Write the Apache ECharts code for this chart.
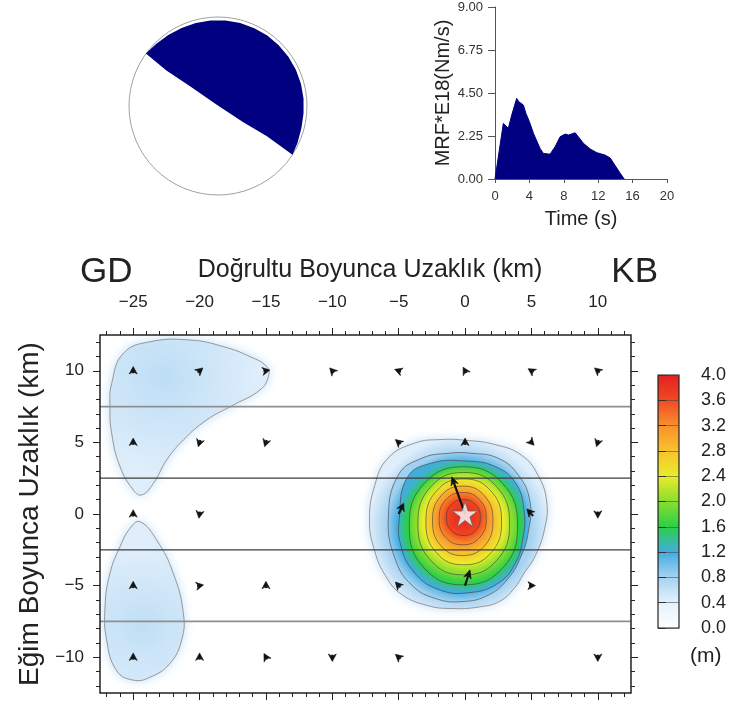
<!DOCTYPE html>
<html><head><meta charset="utf-8">
<script src="https://cdn.jsdelivr.net/npm/echarts@6/dist/echarts.min.js"></script>
<style>html,body{margin:0;padding:0;background:#fff}#c{width:735px;height:701px}</style>
</head><body><div id="c"></div>
<script>
// ---------------- DATA ----------------
// Moment rate function
const mrfTime  = [0, 0.4, 0.97, 1.55, 1.94, 2.52, 2.75, 3.3, 3.6, 4.0, 4.47, 5.24, 5.63, 6.4, 6.99, 7.57, 8.16, 8.54, 9.32, 10.3, 11.07, 11.84, 12.8, 13.4, 13.8, 14.56, 15.03];
const mrfValue = [0, 1.2, 2.91, 2.65, 3.34, 4.22, 4.05, 3.87, 3.43, 3.0, 2.39, 1.6, 1.34, 1.3, 1.69, 2.21, 2.35, 2.3, 2.42, 1.86, 1.57, 1.38, 1.25, 1.1, 0.82, 0.3, 0];

// Focal mechanism (normalised lower-hemisphere projection, radius 1)
const beachCompression = [[-0.81,0.59],[-0.696,0.696],[-0.559,0.799],[-0.409,0.877],[-0.25,0.932],[-0.084,0.961],[0.084,0.961],[0.25,0.932],[0.408,0.875],[0.554,0.791],[0.682,0.682],[0.791,0.554],[0.875,0.408],[0.932,0.25],[0.961,0.084],[0.961,-0.084],[0.937,-0.251],[0.893,-0.416],[0.837,-0.548],[0.55,-0.34],[0.28,-0.18],[-0.01,0.01],[-0.31,0.22],[-0.58,0.4]];

// Slip distribution axes
const xMajorTicks = [-25, -20, -15, -10, -5, 0, 5, 10];
const yMajorTicks = [-10, -5, 0, 5, 10];
const xMinorTicks = []; for (let v = -27; v <= 12; v++) xMinorTicks.push(v);
const yMinorTicks = []; for (let v = -12; v <= 12; v++) yMinorTicks.push(v);
const rowBoundaries = [7.5, 2.5, -2.5, -7.5];

// Slip contours (km along strike, km along dip)
const upperBlob04 = [[-26.62,9.12],[-25.74,11.22],[-23.73,12.03],[-20.72,12.15],[-18.21,11.69],[-16.2,10.99],[-14.94,10.29],[-14.82,9.59],[-15.45,8.66],[-17.46,7.61],[-19.46,6.57],[-21.22,5.17],[-22.48,3.77],[-23.48,2.14],[-24.36,1.33],[-24.99,1.68],[-25.99,3.31],[-26.62,5.63],[-26.75,7.5]];
const lowerBlob04 = [[-24.49,-0.54],[-23.23,-1.82],[-21.98,-4.14],[-21.22,-6.94],[-21.35,-8.8],[-22.23,-10.43],[-23.73,-11.4],[-24.99,-11.6],[-26.24,-10.95],[-27.0,-8.8],[-27.12,-6.47],[-26.75,-4.14],[-25.99,-2.28],[-25.24,-1.0]];
const mainC04 = [[-7.2,-0.5],[-6.8,2.0],[-5.8,3.9],[-3.8,4.95],[-1.8,5.2],[0.0,5.15],[2.25,4.85],[4.26,4.1],[5.5,2.7],[6.15,0.85],[6.0,-1.0],[5.3,-2.9],[4.4,-4.2],[3.7,-5.2],[2.6,-6.1],[1.0,-6.5],[-1.0,-6.6],[-2.8,-6.4],[-4.8,-5.6],[-6.0,-4.3],[-6.8,-2.6]];
const mainC08 = [[-5.78,-0.3],[-5.03,2.72],[-3.27,3.89],[-1.26,4.24],[0.5,4.24],[2.5,3.89],[4.01,2.72],[4.89,0.86],[4.77,-1.23],[4.26,-2.86],[3.26,-4.49],[1.75,-5.66],[-0.26,-6.12],[-2.26,-5.89],[-4.02,-4.96],[-5.28,-3.1]];
const mainC12 = [[-4.95,-0.3],[-4.35,2.55],[-2.55,3.55],[0.0,3.7],[2.3,3.3],[3.85,2.1],[4.45,0.16],[4.35,-1.7],[3.8,-3.4],[2.55,-4.8],[0.25,-5.5],[-2.05,-5.25],[-3.85,-4.05],[-4.85,-2.16]];
const mainC16 = [[3.95,-0.825],[2.81,2.145],[-0.125,3.3],[-3.06,2.145],[-4.2,-0.825],[-3.06,-3.795],[-0.125,-4.95],[2.81,-3.795]];
const mainC20 = [[3.35,-0.675],[2.38,1.9],[-0.1,2.9],[-2.58,1.9],[-3.55,-0.675],[-2.58,-3.25],[-0.1,-4.25],[2.38,-3.25]];
const mainC24 = [[2.75,-0.55],[1.95,1.61],[-0.1,2.45],[-2.15,1.61],[-2.95,-0.55],[-2.15,-2.71],[-0.1,-3.55],[1.95,-2.71]];
const mainC28 = [[2.1,-0.475],[1.46,1.27],[-0.175,1.95],[-1.81,1.27],[-2.45,-0.475],[-1.81,-2.22],[-0.175,-2.9],[1.46,-2.22]];
const mainC32 = [[1.6,-0.325],[1.1,0.99],[-0.175,1.5],[-1.45,0.99],[-1.95,-0.325],[-1.45,-1.64],[-0.175,-2.15],[1.1,-1.64]];
const mainC36 = [[1.15,-0.25],[0.8,0.64],[-0.125,1.0],[-1.05,0.64],[-1.4,-0.25],[-1.05,-1.14],[-0.125,-1.5],[0.8,-1.14]];
const contourLevels = [0.4, 0.4, 0.4, 0.8, 1.2, 1.6, 2.0, 2.4, 2.8, 3.2, 3.6];
const contourPaths = [upperBlob04, lowerBlob04, mainC04, mainC08, mainC12, mainC16, mainC20, mainC24, mainC28, mainC32, mainC36];
const peakSlip = 3.98;
const blobPeakSlip = [0.66, 0.64];

// Slip vectors at subfault centres: [x, y, dx, dy] (km)
const slipVectors = [
  [-25,10,0,0.3],[-20,10,0.25,0.2],[-15,10,0.3,0.05],[-10,10,-0.2,0.2],[-5,10,-0.3,0.1],[0,10,-0.15,0.25],[5,10,-0.25,0.15],[10,10,-0.25,0.2],
  [-25,5,0,0.3],[-20,5,-0.1,-0.3],[-15,5,-0.1,-0.3],[-5,5,-0.25,0.2],[0,5,0,0.3],[5,5,0.2,-0.2],[10,5,-0.1,-0.3],
  [-25,0,0,0.3],[-20,0,-0.05,-0.3],[-5,0,0.38,0.75],[0,0,-1.0,2.6],[5,0,-0.35,0.35],[10,0,0,-0.3],
  [-25,-5,0,0.3],[-20,-5,0.3,0.05],[-15,-5,0,0.3],[-5,-5,-0.25,0.25],[0,-5,0.37,1.1],[5,-5,0.3,0],
  [-25,-10,0,0.3],[-20,-10,0,0.3],[-15,-10,-0.15,0.25],[-10,-10,0,-0.3],[-5,-10,-0.25,0.2],[10,-10,0,-0.3]
];
const hypocenter = [[0, 0]];

// ---------------- STYLE / CHART ----------------
const FONT = 'Liberation Sans, Arial, sans-serif';
const XMIN = -27.5, XMAX = 12.5, YMIN = -12.5, YMAX = 12.5;
const minus = v => (v < 0 ? '\u2212' + Math.abs(v) : String(v));
const slipColors = ['#ffffff','#e4f1fb','#a6d2f1','#42ace0','#2ccf48','#8ade2e','#eaec2a','#f8c22e','#f8902c','#f04a22','#e42020'];
const colorAt = v => echarts.color.lerp(Math.max(0, Math.min(1, v / 4)), slipColors);
const blobShadeCenter = [[-22.8, 9.6], [-24.3, -7.8]];
const blobShadeRadius = [100, 80];

function bbox(pts) {
  let x0 = Infinity, x1 = -Infinity, y0 = Infinity, y1 = -Infinity;
  pts.forEach(p => { x0 = Math.min(x0, p[0]); x1 = Math.max(x1, p[0]); y0 = Math.min(y0, p[1]); y1 = Math.max(y1, p[1]); });
  return { cx: (x0 + x1) / 2, cy: (y0 + y1) / 2, r: ((x1 - x0) + (y1 - y0)) / 4 };
}

function mkX(pos, ticks, len, labels, extra) {
  return Object.assign({
    gridIndex: 0, type: 'value', position: pos, min: XMIN, max: XMAX,
    axisLine: { show: false, onZero: false }, splitLine: { show: false },
    axisTick: { show: true, customValues: ticks, length: len, lineStyle: { color: '#222', width: 1 } },
    axisLabel: labels ? { show: true, customValues: xMajorTicks, formatter: minus, fontSize: 17, color: '#222', fontFamily: FONT, margin: 24 } : { show: false }
  }, extra || {});
}
function mkY(pos, ticks, len, labels, extra) {
  return Object.assign({
    gridIndex: 0, type: 'value', position: pos, min: YMIN, max: YMAX,
    axisLine: { show: false, onZero: false }, splitLine: { show: false },
    axisTick: { show: true, customValues: ticks, length: len, lineStyle: { color: '#222', width: 1 } },
    axisLabel: labels ? { show: true, customValues: yMajorTicks, formatter: minus, fontSize: 17, color: '#222', fontFamily: FONT, margin: 16 } : { show: false }
  }, extra || {});
}

const option = {
  animation: false,
  backgroundColor: '#fff',
  grid: [
    { left: 100, top: 335, width: 531, height: 358, show: true, borderColor: '#222', borderWidth: 1.5, z: 5 },
    { left: 495, top: 7, width: 172, height: 172 },
    { left: 129, top: 17, width: 178, height: 178 },
    { left: 658, top: 375, width: 21, height: 253, show: true, borderColor: '#222', borderWidth: 1.2, z: 10 }
  ],
  xAxis: [
    mkX('top', xMajorTicks, 7, true, { name: 'Doğrultu Boyunca Uzaklık (km)', nameLocation: 'middle', nameGap: 52, nameTextStyle: { fontSize: 25, color: '#222', fontFamily: FONT, padding: [0, 0, 0, 9] } }),
    mkX('top', xMinorTicks, 4, false),
    mkX('bottom', xMajorTicks, 7, false),
    mkX('bottom', xMinorTicks, 4, false),
    { gridIndex: 1, type: 'value', min: 0, max: 20, interval: 4,
      axisLine: { onZero: false, lineStyle: { color: '#555', width: 1 } },
      axisTick: { length: 4, lineStyle: { color: '#555' } },
      axisLabel: { fontSize: 13, color: '#333', fontFamily: FONT, margin: 11 },
      splitLine: { show: false },
      name: 'Time (s)', nameLocation: 'middle', nameGap: 30, nameTextStyle: { fontSize: 20, color: '#222', fontFamily: FONT } },
    { gridIndex: 2, type: 'value', min: -1, max: 1, show: false },
    { gridIndex: 3, type: 'value', min: 0, max: 1, show: false }
  ],
  yAxis: [
    mkY('left', yMajorTicks, 7, true, { name: 'Eğim Boyunca Uzaklık (km)', nameLocation: 'middle', nameGap: 56, nameRotate: 90, nameTextStyle: { fontSize: 28, color: '#222', fontFamily: FONT } }),
    mkY('left', yMinorTicks, 4, false),
    mkY('right', yMajorTicks, 7, false),
    mkY('right', yMinorTicks, 4, false),
    { gridIndex: 1, type: 'value', min: 0, max: 9, interval: 2.25,
      axisLine: { show: true, onZero: false, lineStyle: { color: '#555', width: 1 } },
      axisTick: { show: true, length: 7, lineStyle: { color: '#555' } },
      axisLabel: { fontSize: 13, color: '#333', fontFamily: FONT, margin: 12, formatter: v => v.toFixed(2) },
      splitLine: { show: false },
      name: 'MRF*E18(Nm/s)', nameLocation: 'middle', nameGap: 42, nameRotate: 90, nameTextStyle: { fontSize: 20, color: '#222', fontFamily: FONT } },
    { gridIndex: 2, type: 'value', min: -1, max: 1, show: false },
    { gridIndex: 3, type: 'value', position: 'right', min: 0, max: 4, interval: 0.4, z: 10,
      axisLine: { show: false },
      axisTick: { show: true, length: 8, lineStyle: { color: '#333', width: 1 } },
      axisLabel: { fontSize: 18, color: '#222', fontFamily: FONT, margin: 22, formatter: v => v.toFixed(1) },
      splitLine: { show: true, lineStyle: { color: '#444', width: 0.7, opacity: 0.8 } } }
  ],
  visualMap: {
    type: 'continuous', min: 0, max: 4, seriesIndex: 0, dimension: 1,
    calculable: false, hoverLink: false, realtime: false,
    left: 658, top: 375, itemWidth: 21, itemHeight: 253, padding: 0,
    text: null, showLabel: false,
    inRange: { color: slipColors }
  },
  graphic: [
    { type: 'text', left: 80, top: 255, style: { text: 'GD', fontSize: 35, fill: '#222', fontFamily: FONT } },
    { type: 'text', right: 77, top: 255, style: { text: 'KB', fontSize: 35, fill: '#222', fontFamily: FONT } },
    { type: 'text', left: 690, top: 646, style: { text: '(m)', fontSize: 21, fill: '#222', fontFamily: FONT } }
  ],
  series: [
    { // 0 slip contours
      type: 'custom', xAxisIndex: 0, yAxisIndex: 0, clip: true, z: 2,
      data: contourPaths.map((p, i) => [contourLevels[i], contourLevels[i] + 0.2]),
      encode: { x: 0, y: 1 },
      renderItem: function (params, api) {
        const i = params.dataIndex;
        const pts = contourPaths[i].map(p => api.coord(p));
        const L = contourLevels[i];
        const isBlob = i < 2;
        let fill;
        if (isBlob) {
          const c = api.coord(blobShadeCenter[i]);
          fill = { type: 'radial', x: c[0], y: c[1], r: blobShadeRadius[i], global: true,
            colorStops: [{ offset: 0, color: colorAt(blobPeakSlip[i]) }, { offset: 1, color: colorAt(L + 0.02) }] };
        } else {
          const bo = bbox(pts);
          const hasInner = i + 1 < contourPaths.length;
          if (hasInner) {
            const bi = bbox(contourPaths[i + 1].map(p => api.coord(p)));
            const off = Math.hypot(bo.cx - bi.cx, bo.cy - bi.cy);
            const rOut = bo.r + off;
            const k = Math.min(0.95, bi.r / rOut);
            fill = { type: 'radial', x: bi.cx, y: bi.cy, r: rOut, global: true,
              colorStops: [{ offset: 0, color: colorAt(L + 0.4) }, { offset: k, color: colorAt(L + 0.4) }, { offset: 1, color: colorAt(L + 0.02) }] };
          } else {
            fill = { type: 'radial', x: bo.cx, y: bo.cy, r: bo.r, global: true,
              colorStops: [{ offset: 0, color: colorAt(peakSlip) }, { offset: 1, color: colorAt(L + 0.05) }] };
          }
        }
        const outer = L <= 0.4;
        return {
          type: 'polygon',
          shape: { points: pts, smooth: 0.45 },
          style: { fill: fill, stroke: outer ? '#8c8c8c' : '#3a3a3a', lineWidth: outer ? 0.9 : 0.6,
            shadowBlur: outer ? 10 : 0, shadowColor: outer ? 'rgba(190,222,246,0.9)' : 'transparent' }
        };
      }
    },
    { // 1 subfault row boundaries
      type: 'custom', xAxisIndex: 0, yAxisIndex: 0, clip: true, z: 3,
      data: rowBoundaries.map(v => [v]),
      renderItem: function (params, api) {
        const y = api.value(0);
        const a = api.coord([XMIN, y]), b = api.coord([XMAX, y]);
        const inner = Math.abs(y) < 5;
        return { type: 'line', shape: { x1: a[0], y1: a[1], x2: b[0], y2: b[1] },
          style: { stroke: inner ? '#3c3c3c' : '#8f8f8f', lineWidth: inner ? 1.2 : 1.8 } };
      }
    },
    { // 2 slip vectors
      type: 'custom', xAxisIndex: 0, yAxisIndex: 0, clip: true, z: 4,
      data: slipVectors,
      renderItem: function (params, api) {
        const x = api.value(0), y = api.value(1), dx = api.value(2), dy = api.value(3);
        const p0 = api.coord([x, y]);
        const p1 = api.coord([x + dx, y + dy]);
        const vx = p1[0] - p0[0], vy = p1[1] - p0[1];
        const L = Math.hypot(vx, vy) || 1;
        const ux = vx / L, uy = vy / L;
        const big = L > 12;
        const head = big ? 8.5 : 7.5, hw = big ? 3.8 : 4;
        const bc = [p1[0] - ux * head, p1[1] - uy * head];
        const notch = [p1[0] - ux * head * 0.7, p1[1] - uy * head * 0.7];
        const left = [bc[0] - uy * hw, bc[1] + ux * hw];
        const right = [bc[0] + uy * hw, bc[1] - ux * hw];
        const children = [];
        if (L > head) children.push({ type: 'line', shape: { x1: p0[0], y1: p0[1], x2: notch[0], y2: notch[1] }, style: { stroke: '#111', lineWidth: 2.2 } });
        else children.push({ type: 'line', shape: { x1: p0[0] - ux * 2.5, y1: p0[1] - uy * 2.5, x2: notch[0], y2: notch[1] }, style: { stroke: '#111', lineWidth: 2 } });
        children.push({ type: 'polygon', shape: { points: [p1, left, notch, right] }, style: { fill: '#111', stroke: '#111', lineWidth: 0.6 } });
        return { type: 'group', children: children };
      }
    },
    { // 3 hypocentre
      type: 'scatter', xAxisIndex: 0, yAxisIndex: 0, z: 6,
      data: hypocenter,
      symbol: 'path://M50,0 L61.8,35.5 L99,35.5 L69,57.5 L80.5,93 L50,71 L19.5,93 L31,57.5 L1,35.5 L38.2,35.5 Z',
      symbolSize: 25,
      itemStyle: { color: '#ffffff', borderColor: '#666', borderWidth: 1 }
    },
    { // 4 moment-rate function
      type: 'line', xAxisIndex: 4, yAxisIndex: 4,
      data: mrfTime.map((t, i) => [t, mrfValue[i]]),
      showSymbol: false, smooth: false,
      lineStyle: { color: '#000080', width: 1 },
      areaStyle: { color: '#000080', opacity: 1 }
    },
    { // 5 focal mechanism
      type: 'custom', xAxisIndex: 5, yAxisIndex: 5,
      data: [[0, 0]],
      renderItem: function (params, api) {
        const c = api.coord([0, 0]);
        const r = api.size([1, 1])[0];
        return { type: 'group', children: [
          { type: 'circle', shape: { cx: c[0], cy: c[1], r: r }, style: { fill: '#fff', stroke: '#a0a0a0', lineWidth: 1 } },
          { type: 'polygon', shape: { points: beachCompression.map(p => api.coord(p)) }, style: { fill: '#000080' } }
        ] };
      }
    }
  ]
};
const chart = echarts.init(document.getElementById('c'), null, { renderer: 'canvas' });
chart.setOption(option);
</script>
</body></html>
